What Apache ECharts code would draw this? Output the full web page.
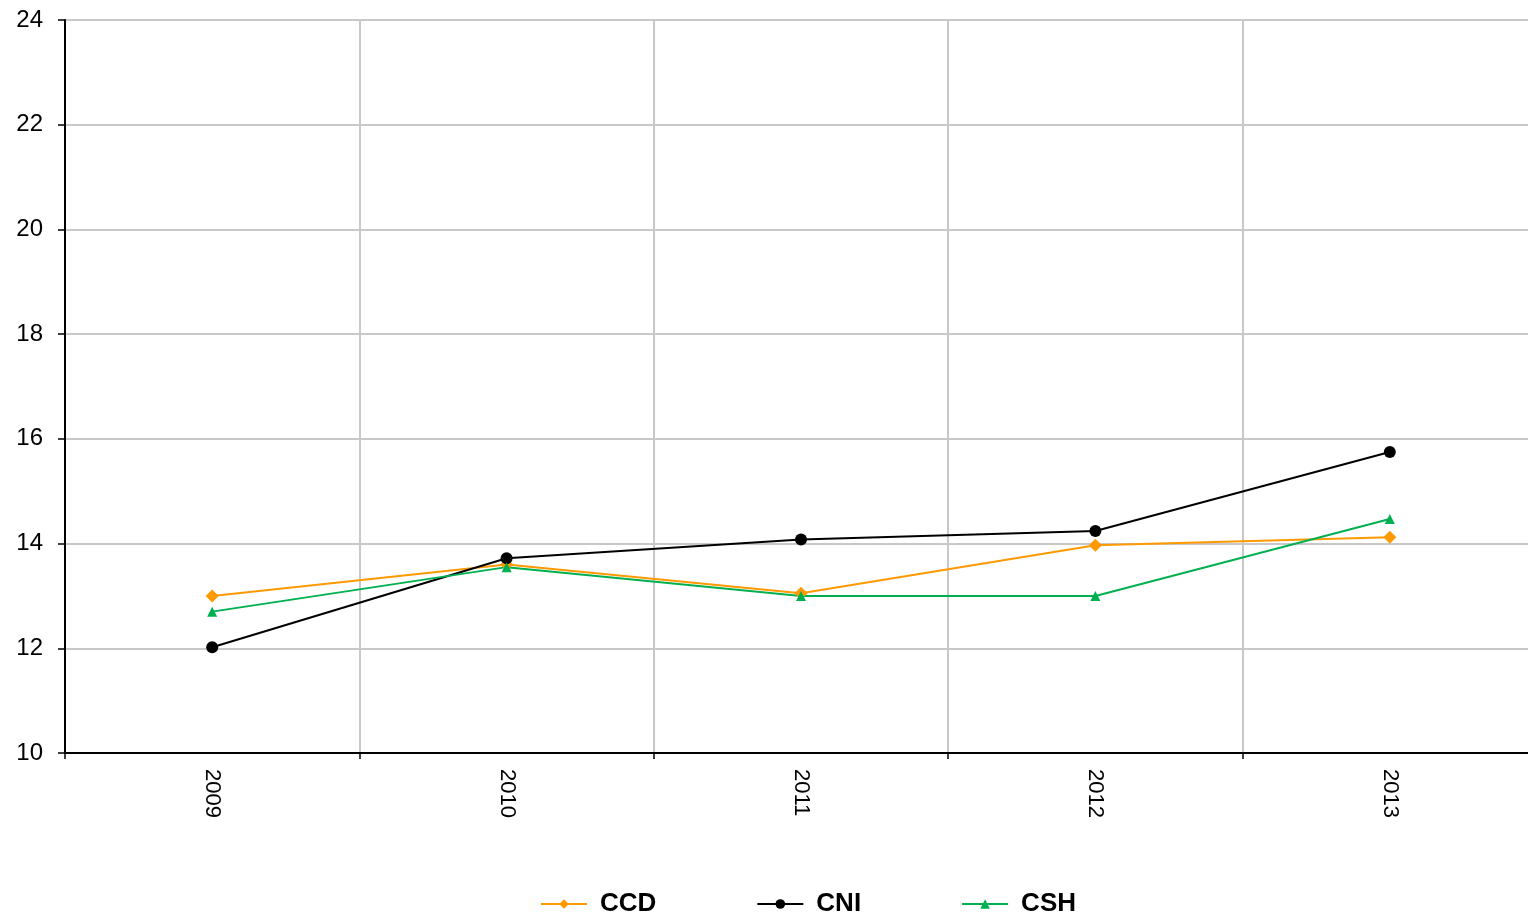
<!DOCTYPE html>
<html><head><meta charset="utf-8">
<script src="https://cdn.jsdelivr.net/npm/echarts@6/dist/echarts.min.js"></script>
<style>html,body{margin:0;padding:0;background:#fff}#c{width:1528px;height:917px}</style>
</head><body><div id="c"></div>
<script>
const categories = ['2009','2010','2011','2012','2013'];
const ccd = [13.0, 13.6, 13.05, 13.97, 14.12];
const cni = [12.02, 13.72, 14.08, 14.24, 15.75];
const csh = [12.7, 13.55, 13.0, 13.0, 14.47];
const yTicks = {min: 10, max: 24, interval: 2};

const chart = echarts.init(document.getElementById('c'));
const font = 'Liberation Sans, Arial, sans-serif';
function ser(name, data, color, symbol, size){
  return {name, type:'line', data, symbol, symbolSize:size, showSymbol:true,
    lineStyle:{color, width:2}, itemStyle:{color}, emphasis:{disabled:true}, animation:false};
}
chart.setOption({
  animation:false,
  grid:{left:65, width:1472, top:20, bottom:164, outerBoundsMode:'none', containLabel:false},
  xAxis:{type:'category', data:categories, boundaryGap:true,
    axisLine:{lineStyle:{color:'#000', width:2}},
    axisTick:{show:true, length:6, lineStyle:{color:'#000', width:1.5}},
    axisLabel:{rotate:-90, color:'#000', fontSize:22, fontFamily:font, margin:16},
    splitLine:{show:true, lineStyle:{color:'#c8c8c8', width:2}}},
  yAxis:{type:'value', min:yTicks.min, max:yTicks.max, interval:yTicks.interval,
    axisLine:{show:true, lineStyle:{color:'#000', width:2}},
    axisTick:{show:true, length:7, lineStyle:{color:'#000', width:1.5}},
    axisLabel:{color:'#000', fontSize:24, fontFamily:font, margin:22},
    splitLine:{lineStyle:{color:'#c8c8c8', width:2}}},
  legend:{top:886, left:535, itemGap:100, itemWidth:46, itemHeight:12,
    textStyle:{fontSize:26, fontWeight:'bold', color:'#000', fontFamily:font, padding:[0,0,0,8]}},
  series:[
    ser('CCD', ccd, '#ff9900', 'diamond', 13),
    ser('CNI', cni, '#000000', 'circle', 12),
    ser('CSH', csh, '#00b050', 'triangle', 10)
  ]
});
</script></body></html>
